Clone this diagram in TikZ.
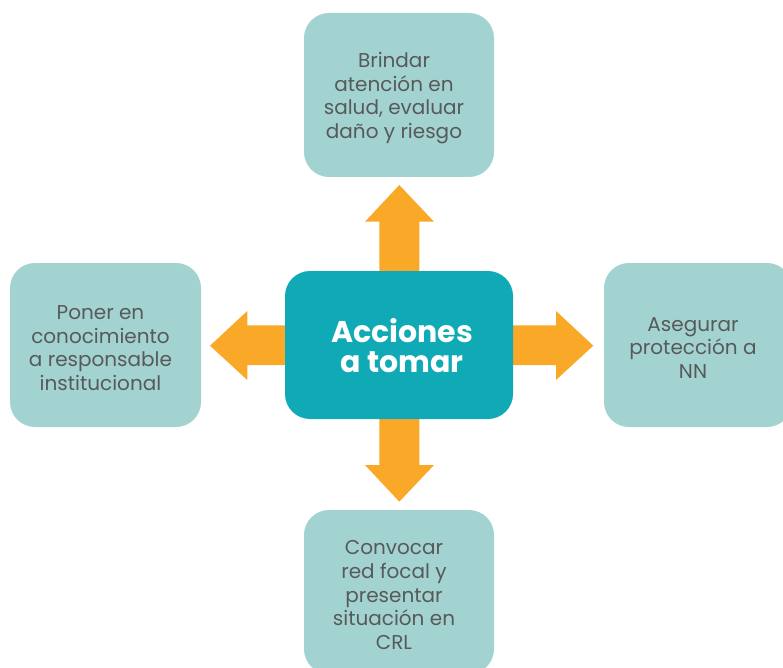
\documentclass[tikz,border=0pt]{standalone}
\usepackage{fontspec}
\setmainfont{Poppins}
\definecolor{boxc}{HTML}{A2D3D0}
\definecolor{centc}{HTML}{10AAB6}
\definecolor{arrc}{HTML}{F9A828}
\definecolor{txtc}{HTML}{58595B}
\begin{document}
\begin{tikzpicture}[x=1pt,y=-1pt,
  outbox/.style={fill=boxc,draw=none,rounded corners=25pt,minimum width=190pt,minimum height=164pt,inner sep=0pt},
  outtxt/.style={text=txtc,align=center,font=\fontsize{20}{23.7}\selectfont},
  centbox/.style={fill=centc,draw=none,rounded corners=25pt,minimum width=228pt,minimum height=148pt,inner sep=0pt},
  centtxt/.style={text=white,align=center,font=\fontsize{30}{30}\selectfont\bfseries},
  arr/.style={fill=arrc,draw=none}]
\useasboundingbox (0,0) rectangle (783,668);
% arrows
\fill[arrc] (379.3,271) -- (379.3,221.7) -- (365,221.7) -- (399.3,185) -- (434,221.7) -- (419.3,221.7) -- (419.3,271) -- cycle;
\fill[arrc] (379.3,419) -- (379.3,465) -- (365,465) -- (399.3,501.7) -- (434,465) -- (419.3,465) -- (419.3,419) -- cycle;
\fill[arrc] (285,325.3) -- (247.3,325.3) -- (247.3,311) -- (210,345.7) -- (247.3,380) -- (247.3,365) -- (285,365) -- cycle;
\fill[arrc] (513,325.3) -- (556,325.3) -- (556,311) -- (593.3,345.7) -- (556,380) -- (556,365) -- (513,365) -- cycle;
% center
\node[centbox] (c) at (399,345) {};
\node[centtxt] (ct) at (402,346) {Acciones\\a tomar};
% boxes
\node[outbox] (t) at (399,95) {};
\node[outtxt] (tt) at ([xshift=-5pt,yshift=-3pt]t.center) {Brindar\\atención en\\salud, evaluar\\daño y riesgo};
\node[outbox,minimum width=191pt] (l) at (105.5,345) {};
\node[outtxt] (lt) at ([xshift=-5pt,yshift=-3pt]l.center) {Poner en\\conocimiento\\a responsable\\institucional};
\node[outbox,minimum width=188pt] (r) at (698,345) {};
\node[outtxt] (rt) at ([xshift=-5pt,yshift=-3pt]r.center) {Asegurar\\protección a\\NN};
\node[outbox] (b) at (399,592) {};
\node[outtxt] (bt) at ([xshift=-5pt,yshift=-3pt]b.center) {Convocar\\red focal y\\presentar\\situación en\\CRL};
\end{tikzpicture}
\end{document}
